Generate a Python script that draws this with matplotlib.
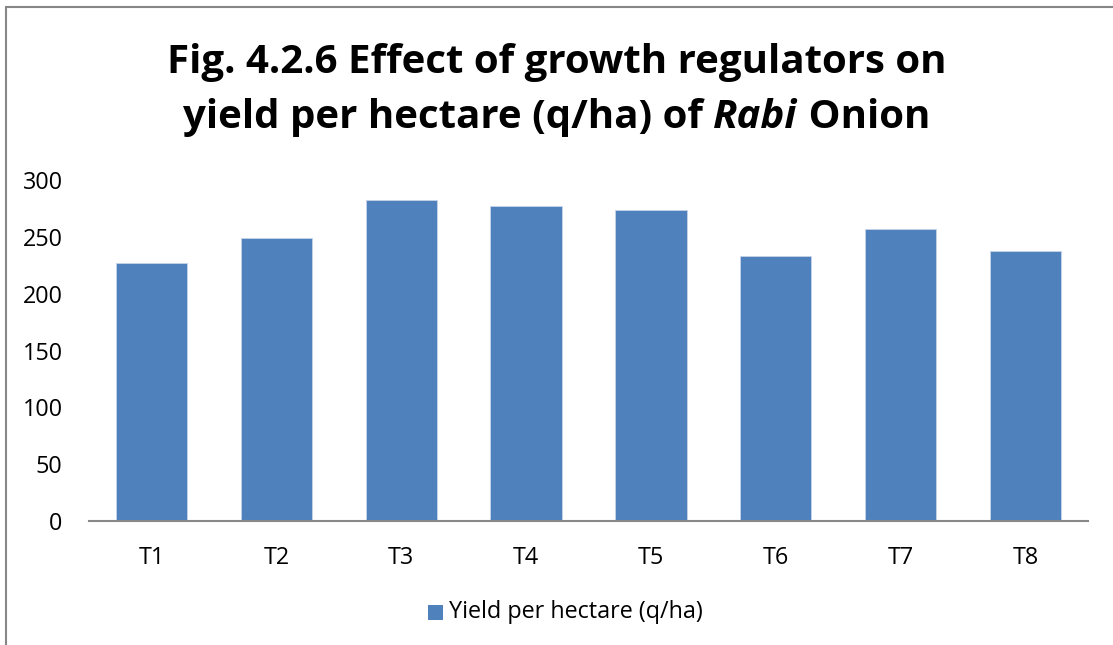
import matplotlib
matplotlib.use("Agg")
import matplotlib.pyplot as plt
from matplotlib.patches import Rectangle

categories = ["T1", "T2", "T3", "T4", "T5", "T6", "T7", "T8"]
yield_q_ha = [227, 249, 282.5, 277.5, 273.5, 233, 257, 237.5]
yticks = [0, 50, 100, 150, 200, 250, 300]
series_name = "Yield per hectare (q/ha)"

FONT = "Open Sans"
BAR = "#4F81BD"
TFS = 29
LFS = 16.8

W, H = 1113, 645
fig = plt.figure(figsize=(W / 100, H / 100), dpi=100)

# outer chart frame (partially cropped in reference)
fig.patches.append(Rectangle((6 / W, -0.1), 1.2, 1 - 7 / H + 0.1, transform=fig.transFigure,
                             fill=False, edgecolor="#878787", linewidth=1.5))

ax = fig.add_axes([89 / W, 1 - 521 / H, (1088 - 89) / W, (521 - 180) / H])
x = range(len(categories))
ax.bar(x, yield_q_ha, width=0.571, color=BAR, edgecolor="#c6d4e8", linewidth=0.6, zorder=2)
ax.set_xlim(-0.5, len(categories) - 0.5)
ax.set_ylim(0, 300)
ax.set_yticks(yticks)
ax.set_xticks(list(x))
ax.set_xticklabels(categories, fontfamily=FONT, fontsize=LFS)
ax.set_yticklabels([str(v) for v in yticks], fontfamily=FONT, fontsize=LFS)
for s in ["top", "right", "left"]:
    ax.spines[s].set_visible(False)
ax.spines["bottom"].set_color("#888888")
ax.spines["bottom"].set_linewidth(1.5)
ax.tick_params(axis="both", length=0)
ax.tick_params(axis="x", pad=18)
ax.tick_params(axis="y", pad=19)

# title
fig.text(0.5, 1 - 73 / H, "Fig. 4.2.6 Effect of growth regulators on", ha="center",
         va="baseline", fontfamily=FONT, fontweight="bold", fontsize=TFS)

parts = [("yield per hectare (q/ha) of ", "normal"), ("Rabi", "italic"), (" Onion", "normal")]
fig.canvas.draw()
r = fig.canvas.get_renderer()
widths = []
for s, st in parts:
    tmp = fig.text(0, 0, s.replace(" ", "\u00a0"), fontfamily=FONT, fontweight="bold",
                   fontstyle=st, fontsize=TFS)
    widths.append(tmp.get_window_extent(r).width)
    tmp.remove()
xpos = (W - sum(widths)) / 2
for (s, st), w in zip(parts, widths):
    fig.text(xpos / W, 1 - 128 / H, s, ha="left", va="baseline", fontfamily=FONT,
             fontweight="bold", fontstyle=st, fontsize=TFS)
    xpos += w

# legend
fig.patches.append(Rectangle((428 / W, 1 - 620 / H), 15 / W, 15 / H, transform=fig.transFigure,
                             facecolor=BAR, edgecolor="none"))
fig.text(449 / W, 1 - 612.5 / H, series_name, ha="left", va="center", fontfamily=FONT, fontsize=LFS)

fig.savefig("out.png", dpi=100)
